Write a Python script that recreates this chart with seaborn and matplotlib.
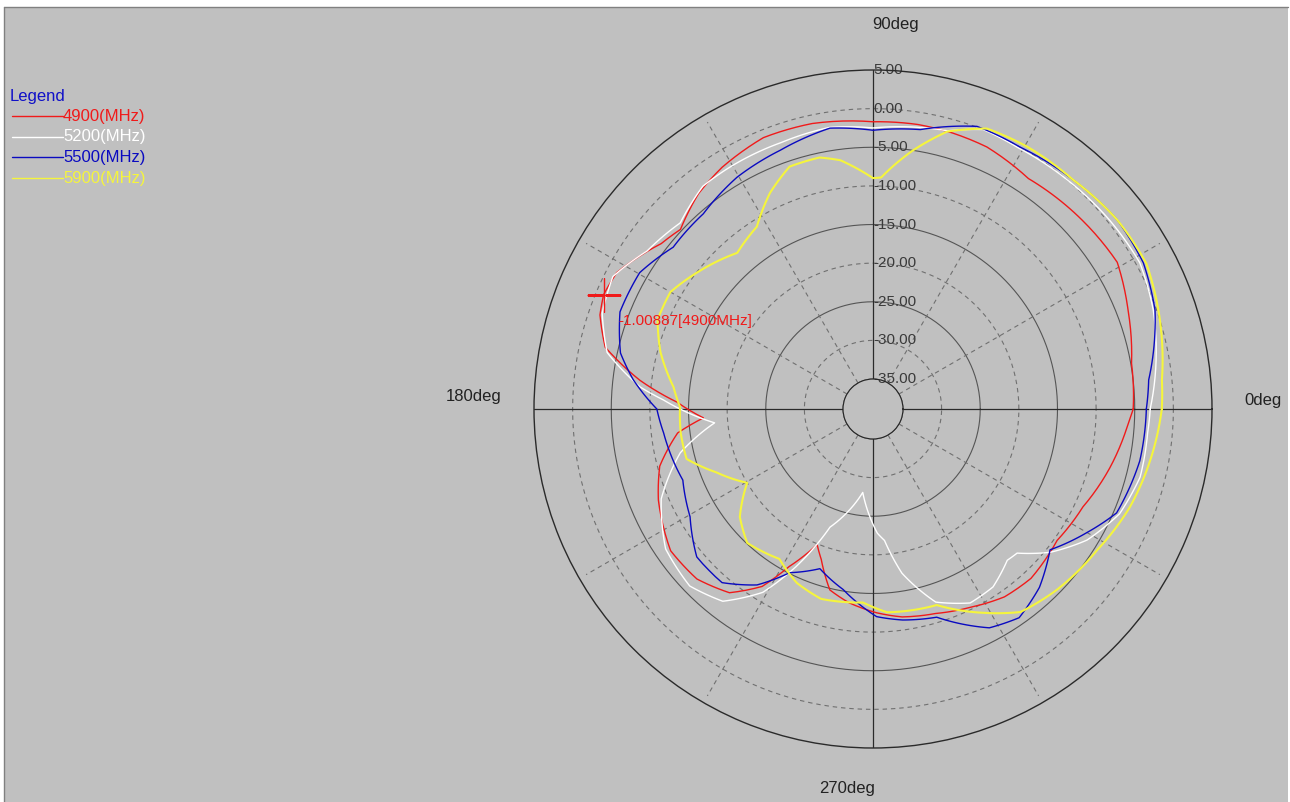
import numpy as np
import pandas as pd
import matplotlib
matplotlib.use("Agg")
import matplotlib.pyplot as plt
import seaborn as sns
from matplotlib.lines import Line2D
from matplotlib.patches import Rectangle

sns.set_style("white")
plt.rcParams["font.family"] = ["Liberation Sans", "DejaVu Sans"]

# Diagrama de radiación (ángulo en grados, ganancia en dB)
ang_4900 = [0, 10, 21, 31, 42, 56, 66.5, 74, 81, 90, 102, 112, 122, 129, 137, 142, 152, 157, 161, 167,
            173, 178, 183, 187, 195, 203, 215, 224, 232, 238, 242, 247.6, 251, 256.6, 263, 271, 278,
            287, 296, 305, 313, 324.5, 335, 346, 356, 360]
db_4900 = [-5.2, -4.9, -3.5, -2.0, -2.4, -2.9, -1.9, -1.7, -1.6, -1.7, -1.1, -1.0, -2.0, -3.0, -4.8, -4.1,
           -1.3, -1.0, -1.5, -3.3, -8.5, -13.5, -16.9, -13.4, -10.3, -8.7, -6.9, -7.2, -8.7, -11.8,
           -15.8, -19.9, -18.3, -14.8, -13.6, -12.5, -11.7, -11.2, -10.3, -9.2, -8.9, -9.6, -8.9,
           -7.3, -5.9, -5.2]

ang_5200 = [0, 19.5, 28.7, 38.6, 49.7, 61, 68.5, 75, 90, 98.7, 109, 120.6, 127.4, 136, 145, 153,
            160.5, 168, 174.6, 177.5, 185, 192.8, 203, 214, 224, 232, 239, 244, 250, 263, 272, 275,
            280, 288, 296.6, 304, 311.6, 315, 321, 328.5, 337, 345.7, 355, 360]
db_5200 = [-3.0, -0.4, 0.5, 0.3, 0.0, -0.2, 0.0, -1.6, -2.5, -2.0, -2.4, -2.5, -2.6, -4.2, -3.2,
           -1.1, -1.7, -3.7, -8.6, -11.7, -18.3, -13.3, -9.1, -6.5, -5.9, -7.3, -11.2, -16.2, -22.6,
           -28.0, -22.8, -21.8, -17.3, -12.6, -10.8, -11.1, -12.7, -12.5, -9.4, -6.4, -4.2, -3.2,
           -3.2, -3.0]

ang_5500 = [0, 6, 19.3, 28.4, 37.8, 48.9, 60.7, 69.8, 80.4, 90, 98.7, 109.7, 120.4, 131, 141,
            149.7, 159, 167.5, 173, 180, 186.5, 200.5, 210.5, 220, 229, 236.6, 243, 251.6, 260.6,
            271, 278, 287, 298, 305, 313, 321.5, 330, 336.9, 349, 360]
db_5500 = [-3.5, -3.0, -0.2, 0.9, 1.1, 0.5, 0.0, 0.1, -2.2, -2.8, -2.1, -3.3, -4.1, -5.4, -5.6,
           -3.9, -3.8, -5.4, -7.6, -10.9, -11.6, -12.6, -11.4, -9.1, -9.1, -11.6, -15.1, -17.1,
           -15.2, -12.0, -11.3, -10.7, -6.8, -5.9, -7.3, -9.6, -6.9, -4.6, -3.7, -3.5]

ang_5900 = [0, 5.7, 19, 28, 37.8, 49, 59.6, 67.9, 75, 81.2, 88, 90, 97.5, 102, 109, 115.5, 122.5,
            131, 142, 150, 157.5, 165, 173.7, 179.4, 187, 195, 202, 210.4, 219, 226.8, 238, 246.4,
            254.7, 267, 274, 288, 299, 306, 315.5, 327.8, 339, 351.7, 360]
db_5900 = [-1.5, -1.3, 0.2, 1.2, 1.1, 0.5, 0.5, 0.3, -1.7, -5.0, -8.9, -9.0, -6.4, -5.6, -5.7,
           -7.9, -10.9, -12.1, -10.1, -8.6, -8.7, -10.4, -12.9, -13.9, -13.8, -13.9, -17.0, -20.0,
           -16.7, -15.1, -16.0, -14.3, -13.4, -13.8, -12.5, -12.2, -8.7, -6.4, -5.5, -4.6, -3.3,
           -2.2, -1.5]

frecuencias = ["4900(MHz)", "5200(MHz)", "5500(MHz)", "5900(MHz)"]
colores = ["#f01a1a", "#ffffff", "#0a0ac0", "#f5f53c"]
grosores = [1.0, 1.0, 1.0, 1.5]

anillos_solidos = [-5, -15, -25, -35]
anillos_rayados = [0, -10, -20, -30]
etiquetas_r = [5, 0, -5, -10, -15, -20, -25, -30, -35]
ejes_solidos = [0, 90, 180, 270]
ejes_rayados = [30, 60, 120, 150, 210, 240, 300, 330]

marcador_ang = 157
marcador_db = -1.00887

W, H = 1290, 802
fig = plt.figure(figsize=(W / 100, H / 100), dpi=100)
fig.patch.set_facecolor("white")
fig.add_artist(Rectangle((4 / W, 0), (W - 6) / W, (H - 7) / H, transform=fig.transFigure,
                         facecolor="#c0c0c0", edgecolor="none", zorder=-10))
fig.add_artist(Line2D([4 / W, 4 / W], [0, (H - 7) / H], color="#808080", lw=1))
fig.add_artist(Line2D([4 / W, 1 - 2 / W], [(H - 7) / H, (H - 7) / H], color="#808080", lw=1))

# Ejes polares centrados en (873, 409) px con radio 339 px
cx, cy, R = 873, 409, 339
ax = fig.add_axes([(cx - R) / W, (H - cy - R) / H, 2 * R / W, 2 * R / H], projection="polar")
ax.set_facecolor("none")
ax.set_ylim(-35, 5)
ax.set_rorigin(-38.88)
ax.set_xticks([])
ax.set_yticks([])
ax.grid(False)
ax.spines["polar"].set_color("#2a2a2a")
ax.spines["polar"].set_linewidth(1.0)
ax.spines["inner"].set_visible(False)

circulo = np.linspace(0, 2 * np.pi, 361)
for lvl in anillos_solidos:
    ax.plot(circulo, np.full_like(circulo, lvl), color="#555555", lw=0.8, zorder=1)
for lvl in anillos_rayados:
    ax.plot(circulo, np.full_like(circulo, lvl), color="#707070", lw=0.8,
            ls=(0, (4, 3.5)), zorder=1)
for a in ejes_solidos:
    ax.plot([np.deg2rad(a)] * 2, [-35, 5], color="#2a2a2a", lw=0.9, zorder=1)
for a in ejes_rayados:
    ax.plot([np.deg2rad(a)] * 2, [-35, 4], color="#707070", lw=0.8, ls=(0, (4, 3.5)), zorder=1)

for lvl in etiquetas_r:
    ax.text(np.pi / 2, lvl, f"{lvl:.2f}", ha="left", va="center", fontsize=11,
            color="#3a3a3a", zorder=2)

n_previas = len(ax.lines)
series = [(ang_4900, db_4900), (ang_5200, db_5200), (ang_5500, db_5500), (ang_5900, db_5900)]
for (ang, db), f, c, lw in zip(series, frecuencias, colores, grosores):
    df = pd.DataFrame({"theta": np.deg2rad(ang), "db": db})
    sns.lineplot(data=df, x="theta", y="db", sort=False, estimator=None, color=c, lw=lw,
                 ax=ax, zorder=3)
# trazar los tramos como arcos en coordenadas polares
for ln in ax.lines[n_previas:]:
    ln.get_path()._interpolation_steps = 12
ax.set_xlabel("")
ax.set_ylabel("")

# Marcador de lectura
ax.plot(np.deg2rad(marcador_ang), marcador_db, marker="+", ms=24, mew=1.0, color="#f01a1a",
        zorder=4)
ax.annotate(f"{marcador_db:.5f}[4900MHz]", (np.deg2rad(marcador_ang), marcador_db),
            xytext=(15, -26), textcoords="offset pixels", ha="left", va="center",
            fontsize=11, color="#f01a1a", zorder=4)

# Etiquetas de ángulo
etiq = [("90deg", 896, 25), ("180deg", 474, 397), ("0deg", 1263, 400), ("270deg", 847, 789)]
for t, x, y in etiq:
    fig.text(x / W, 1 - y / H, t, ha="center", va="center", fontsize=12, color="#222222")

# Leyenda
fig.text(10 / W, 1 - 96 / H, "Legend", ha="left", va="center", fontsize=12, color="#1010c8")
for i, (f, c) in enumerate(zip(frecuencias, colores)):
    y = 1 - (116 + 20.7 * i) / H
    fig.add_artist(Line2D([12 / W, 63 / W], [y, y], color=c, lw=1.0))
    fig.text(63 / W, y, f, ha="left", va="center", fontsize=12, color=c)

fig.savefig("out.png", dpi=100)
